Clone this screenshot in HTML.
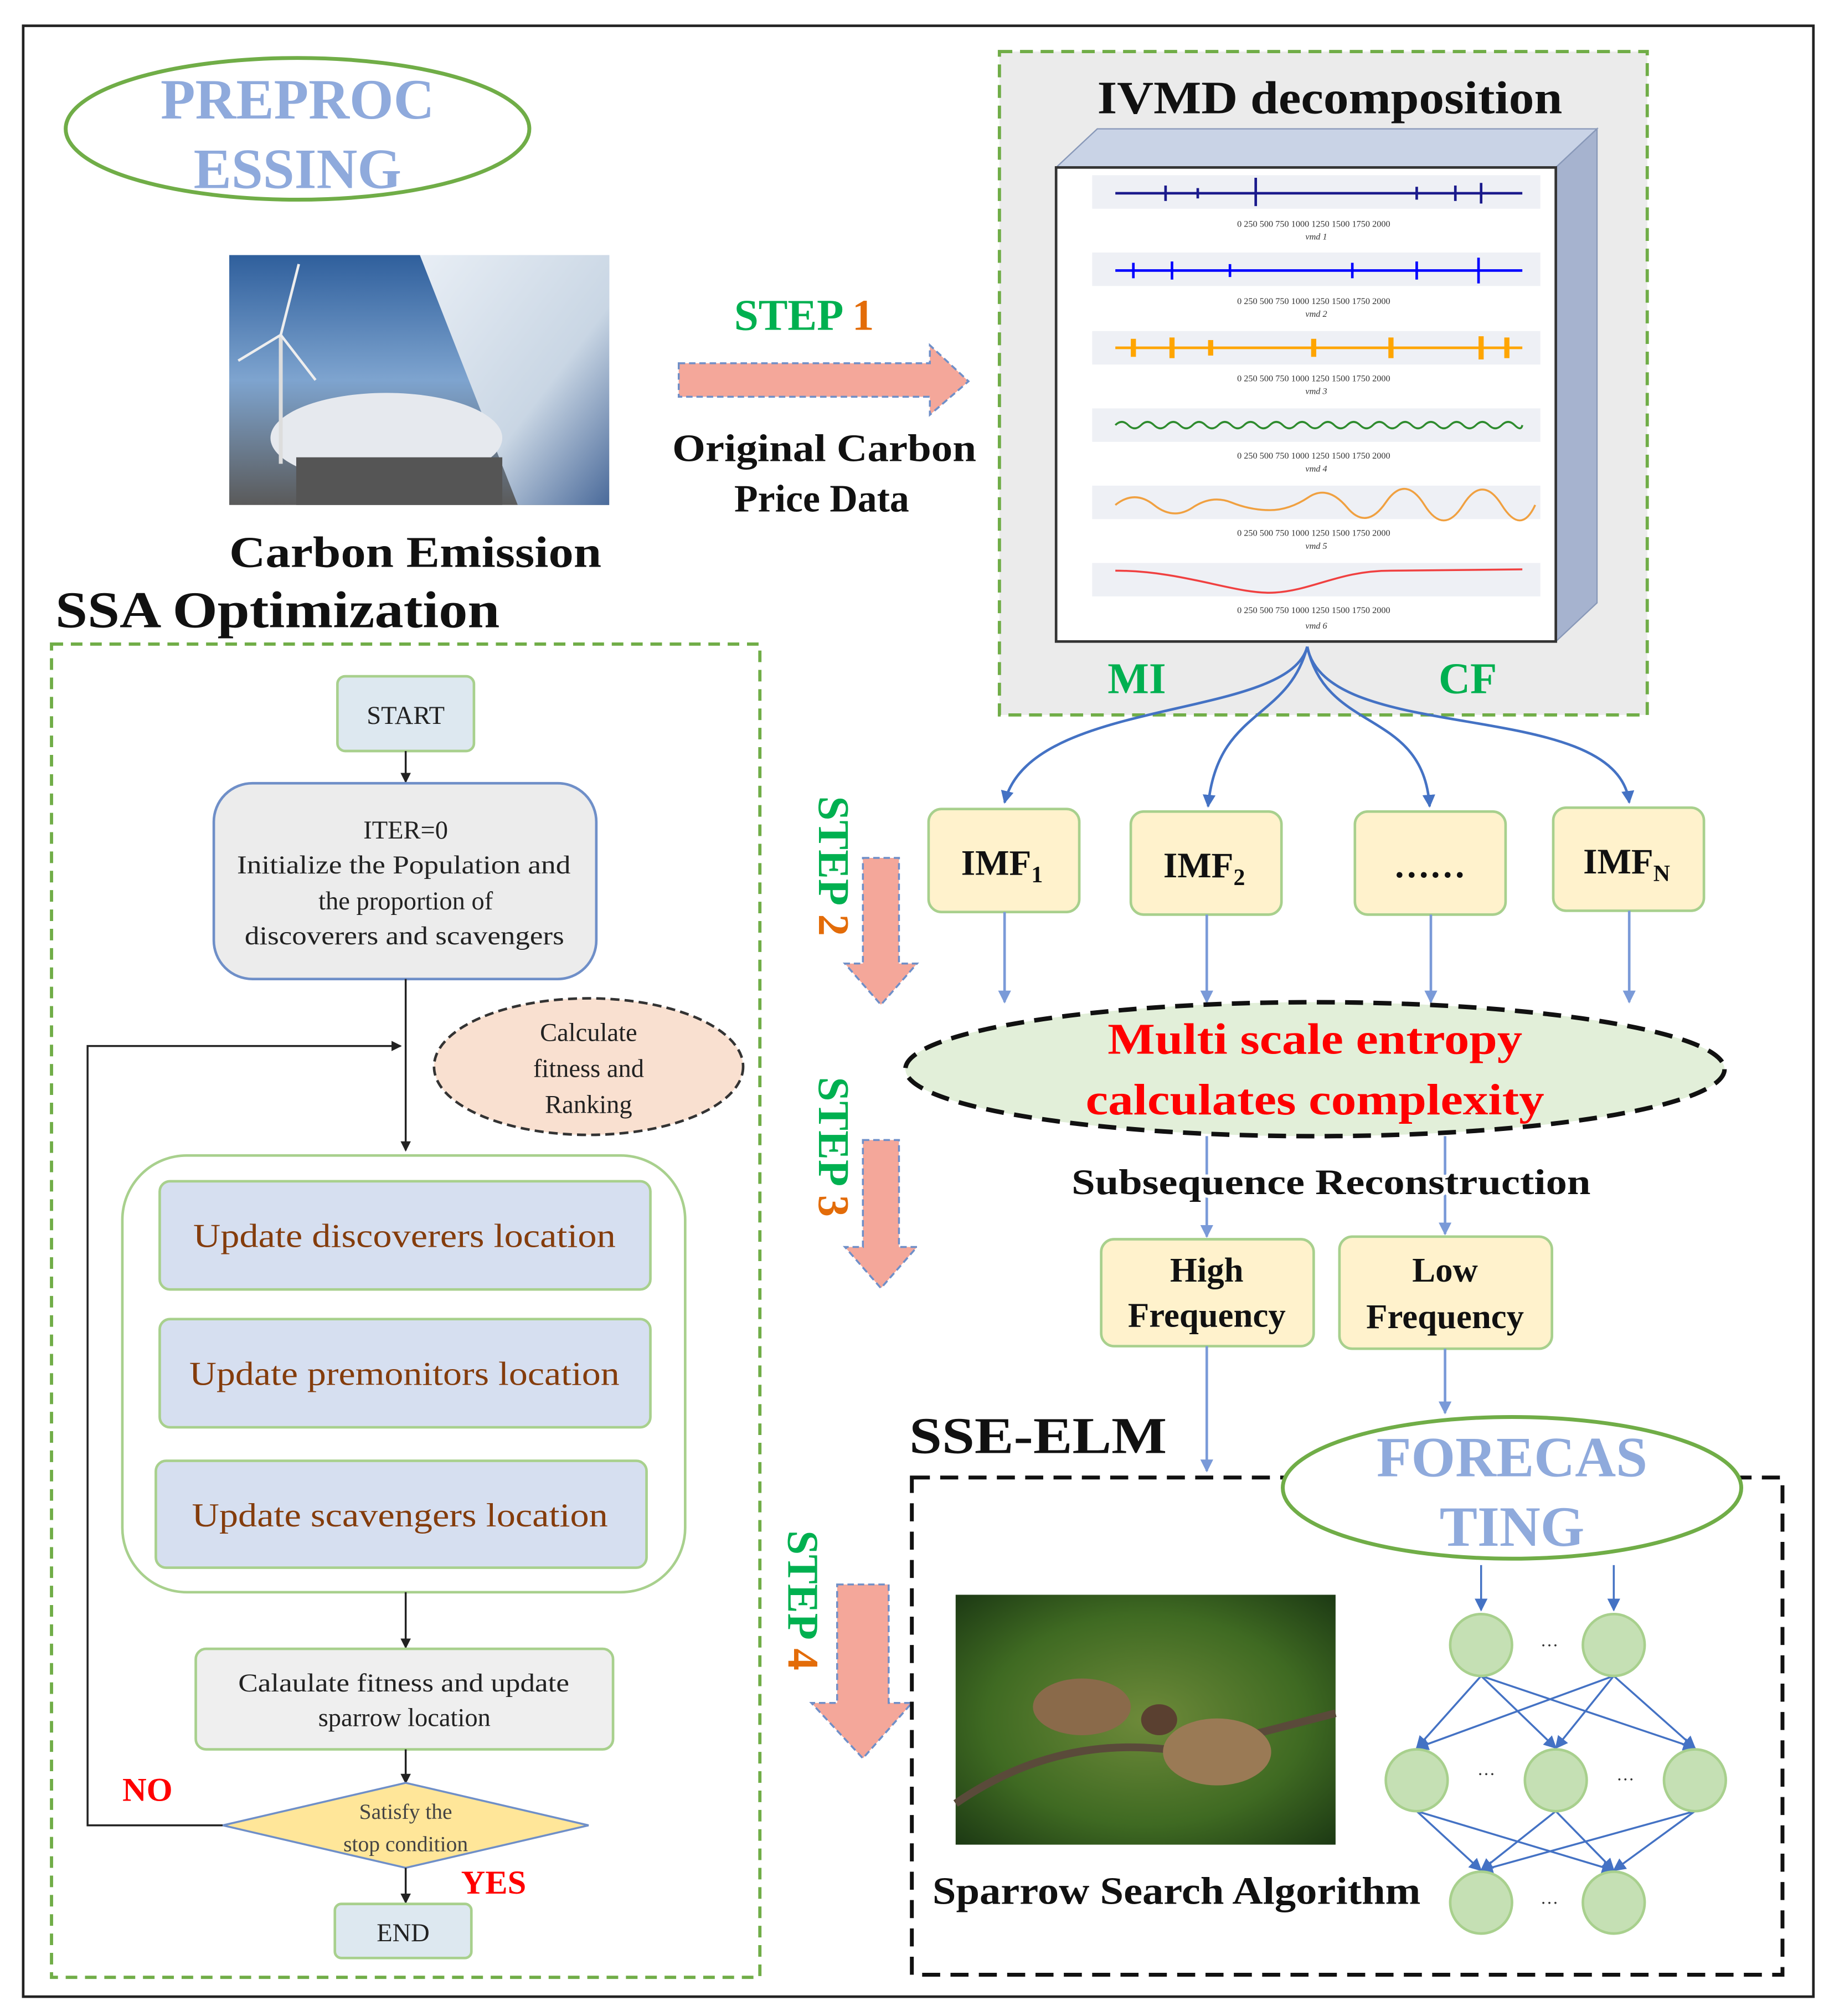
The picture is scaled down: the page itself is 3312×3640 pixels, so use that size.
<!DOCTYPE html>
<html><head><meta charset="utf-8"><style>
html,body{margin:0;padding:0;background:#fff}
svg{display:block}
text{font-family:"Liberation Serif",serif}
</style></head><body>
<svg width="3312" height="3640" viewBox="0 0 1424 1565" xmlns="http://www.w3.org/2000/svg">
<defs>
<marker id="ab" markerWidth="8" markerHeight="8" refX="7" refY="4" orient="auto" markerUnits="userSpaceOnUse"><path d="M0,0 L8,4 L0,8 z" fill="#222"/></marker>
<marker id="abl" markerWidth="10" markerHeight="10" refX="9" refY="5" orient="auto" markerUnits="userSpaceOnUse"><path d="M0,0 L10,5 L0,10 z" fill="#4472c4"/></marker>
<marker id="abl2" markerWidth="10" markerHeight="10" refX="9" refY="5" orient="auto" markerUnits="userSpaceOnUse"><path d="M0,0 L10,5 L0,10 z" fill="#7a9ad8"/></marker>
<linearGradient id="sky" x1="0" y1="0" x2="0" y2="1"><stop offset="0" stop-color="#2f5f9c"/><stop offset="0.5" stop-color="#7ea4cf"/><stop offset="1" stop-color="#5a5a5a"/></linearGradient>
<linearGradient id="smoke" x1="0" y1="0" x2="1" y2="1"><stop offset="0" stop-color="#e8eef5"/><stop offset="0.6" stop-color="#c9d6e4"/><stop offset="1" stop-color="#4a6a9a"/></linearGradient>
<radialGradient id="bird" cx="0.5" cy="0.5" r="0.7"><stop offset="0" stop-color="#6e8a3a"/><stop offset="0.6" stop-color="#3f6a22"/><stop offset="1" stop-color="#1d3a14"/></radialGradient>
</defs>
<rect x="18" y="20" width="1390" height="1530" fill="none" stroke="#222" stroke-width="2"/>

<ellipse cx="231" cy="100" rx="180" ry="55" fill="#fff" stroke="#70ad47" stroke-width="3"/>
<text x="231" y="92" font-size="44" font-weight="bold" fill="#8faadc" text-anchor="middle">PREPROC</text>
<text x="231" y="146" font-size="44" font-weight="bold" fill="#8faadc" text-anchor="middle">ESSING</text>
<rect x="178" y="198" width="295" height="194" fill="url(#sky)"/>
<polygon points="326,198 473,198 473,392 402,392" fill="url(#smoke)"/>
<ellipse cx="300" cy="340" rx="90" ry="35" fill="#e6e9ee"/>
<rect x="230" y="355" width="160" height="37" fill="#555"/>
<line x1="218" y1="260" x2="218" y2="360" stroke="#ddd" stroke-width="3"/>
<line x1="218" y1="260" x2="232" y2="205" stroke="#eee" stroke-width="2"/>
<line x1="218" y1="260" x2="185" y2="280" stroke="#eee" stroke-width="2"/>
<line x1="218" y1="260" x2="245" y2="295" stroke="#eee" stroke-width="2"/>
<text x="178" y="440" font-size="34" font-weight="bold" fill="#111" textLength="289" lengthAdjust="spacingAndGlyphs">Carbon Emission</text>
<text x="43" y="487" font-size="40" font-weight="bold" fill="#111" textLength="345" lengthAdjust="spacingAndGlyphs">SSA Optimization</text>

<rect x="40" y="500" width="550" height="1035" fill="none" stroke="#70ad47" stroke-width="2.5" stroke-dasharray="9,6"/>
<rect x="262" y="525" width="106" height="58" rx="6" fill="#dde8f0" stroke="#a8d08d" stroke-width="2"/>
<text x="315" y="562" font-size="20" text-anchor="middle" fill="#222">START</text>
<line x1="315" y1="583" x2="315" y2="607" stroke="#222" stroke-width="1.5" marker-end="url(#ab)"/>
<rect x="166" y="608" width="297" height="152" rx="30" fill="#ececec" stroke="#6f8fc8" stroke-width="2"/>
<g font-size="20" fill="#222">
<text x="315" y="651" text-anchor="middle">ITER=0</text>
<text x="184" y="678" textLength="259" lengthAdjust="spacingAndGlyphs">Initialize  the Population and</text>
<text x="315" y="706" text-anchor="middle">the proportion of</text>
<text x="190" y="733" textLength="248" lengthAdjust="spacingAndGlyphs">discoverers and scavengers</text>
</g>
<line x1="315" y1="760" x2="315" y2="893" stroke="#222" stroke-width="1.5" marker-end="url(#ab)"/>
<ellipse cx="457" cy="828" rx="120" ry="53" fill="#f9e0d0" stroke="#333" stroke-width="2" stroke-dasharray="7,4"/>
<g font-size="20" text-anchor="middle" fill="#222">
<text x="457" y="808">Calculate</text><text x="457" y="836">fitness and</text><text x="457" y="864">Ranking</text>
</g>
<polyline points="175,1417 68,1417 68,812 311,812" fill="none" stroke="#222" stroke-width="1.5" marker-end="url(#ab)"/>
<rect x="95" y="897" width="437" height="339" rx="50" fill="#fff" stroke="#a8d08d" stroke-width="2"/>
<g fill="#d6dff0" stroke="#a8d08d" stroke-width="2">
<rect x="124" y="917" width="381" height="84" rx="8"/>
<rect x="124" y="1024" width="381" height="84" rx="8"/>
<rect x="121" y="1134" width="381" height="83" rx="8"/>
</g>
<g font-size="26" fill="#843c0c">
<text x="150" y="968" textLength="328" lengthAdjust="spacingAndGlyphs">Update discoverers location</text>
<text x="147" y="1075" textLength="334" lengthAdjust="spacingAndGlyphs">Update premonitors location</text>
<text x="149" y="1185" textLength="323" lengthAdjust="spacingAndGlyphs">Update scavengers location</text>
</g>
<line x1="315" y1="1236" x2="315" y2="1279" stroke="#222" stroke-width="1.5" marker-end="url(#ab)"/>
<rect x="152" y="1280" width="324" height="78" rx="8" fill="#efefef" stroke="#a8d08d" stroke-width="2"/>
<text x="185" y="1313" font-size="20" fill="#222" textLength="257" lengthAdjust="spacingAndGlyphs">Calaulate  fitness and update</text>
<text x="314" y="1340" font-size="20" text-anchor="middle" fill="#222">sparrow location</text>
<line x1="315" y1="1358" x2="315" y2="1384" stroke="#222" stroke-width="1.5" marker-end="url(#ab)"/>
<polygon points="173,1417 315,1384 457,1417 315,1450" fill="#ffe699" stroke="#6f8fc8" stroke-width="1.5"/>
<text x="315" y="1412" font-size="17" text-anchor="middle" fill="#444">Satisfy  the</text>
<text x="315" y="1437" font-size="17" text-anchor="middle" fill="#444">stop condition</text>
<text x="95" y="1398" font-size="26" font-weight="bold" fill="#ff0000">NO</text>
<text x="358" y="1470" font-size="26" font-weight="bold" fill="#ff0000">YES</text>
<line x1="315" y1="1450" x2="315" y2="1477" stroke="#222" stroke-width="1.5" marker-end="url(#ab)"/>
<rect x="260" y="1478" width="106" height="42" rx="5" fill="#dde8f0" stroke="#a8d08d" stroke-width="2"/>
<text x="313" y="1507" font-size="20" text-anchor="middle" fill="#222">END</text>

<text x="570" y="256" font-size="34" font-weight="bold" fill="#00b050">STEP <tspan fill="#e36c09">1</tspan></text>
<polygon points="527,282 722,282 722,268 752,296 722,322 722,308 527,308" fill="#f4a79a" stroke="#6f8fc8" stroke-width="1.5" stroke-dasharray="5,3"/>
<text x="522" y="358" font-size="30" font-weight="bold" fill="#111" textLength="236" lengthAdjust="spacingAndGlyphs">Original Carbon</text>
<text x="638" y="397" font-size="30" font-weight="bold" text-anchor="middle" fill="#111">Price Data</text>

<rect x="776" y="40" width="503" height="515" fill="#ebebeb" stroke="#70ad47" stroke-width="2.5" stroke-dasharray="10,6"/>
<text x="852" y="88" font-size="36" font-weight="bold" fill="#111" textLength="361" lengthAdjust="spacingAndGlyphs">IVMD decomposition</text>
<polygon points="820,130 852,100 1240,100 1208,130" fill="#c9d3e6" stroke="#8898b8"/>
<polygon points="1208,130 1240,100 1240,468 1208,498" fill="#a6b3cf" stroke="#8898b8"/>
<rect x="820" y="130" width="388" height="368" fill="#fff" stroke="#333" stroke-width="2"/>
<g stroke-width="2" fill="none">
<rect x="848" y="136" width="348" height="26" fill="#eef0f5" stroke="none"/>
<path d="M866,150 L1182,150" stroke="#1a1a8c"/>
<path d="M905,144v12M930,146v8M975,138v22M1100,145v10M1130,144v12M1150,142v16" stroke="#1a1a8c"/>
<rect x="848" y="196" width="348" height="26" fill="#eef0f5" stroke="none"/>
<path d="M866,210 L1182,210" stroke="#0000ff"/>
<path d="M880,204v12M910,203v14M955,205v10M1050,204v12M1100,203v14M1148,200v20" stroke="#0000ff"/>
<rect x="848" y="257" width="348" height="26" fill="#eef0f5" stroke="none"/>
<path d="M866,270 L1182,270" stroke="#ffa500"/>
<path d="M880,263v14M910,262v16M940,264v12M1020,263v14M1080,262v16M1150,261v18M1170,262v16" stroke="#ffa500" stroke-width="4"/>
<rect x="848" y="317" width="348" height="26" fill="#eef0f5" stroke="none"/>
<path d="M866,330 q5,-5 10,0 t10,0 t10,0 t10,0 t10,0 t10,0 t10,0 t10,0 t10,0 t10,0 t10,0 t10,0 t10,0 t10,0 t10,0 t10,0 t10,0 t10,0 t10,0 t10,0 t10,0 t10,0 t10,0 t10,0 t10,0 t10,0 t10,0 t10,0 t10,0 t10,0 t10,0 t6,0" stroke="#2e8b2e" stroke-width="1.5"/>
<rect x="848" y="377" width="348" height="26" fill="#eef0f5" stroke="none"/>
<path d="M866,392 q15,-12 30,0 t30,2 t30,-4 t30,6 t30,-10 t30,8 t30,-4 t30,2 t30,0 t30,0 t26,0" stroke="#f0a040" stroke-width="1.5"/>
<rect x="848" y="437" width="348" height="26" fill="#eef0f5" stroke="none"/>
<path d="M866,443 C920,443 960,462 990,460 C1020,458 1040,443 1080,443 L1182,442" stroke="#f04040" stroke-width="1.5"/>
</g>
<g font-size="7" fill="#333" font-family="Liberation Sans,sans-serif" text-anchor="middle">
<text x="1020" y="176">0   250   500   750   1000   1250   1500   1750   2000</text><text x="1022" y="186" font-style="italic">vmd 1</text>
<text x="1020" y="236">0   250   500   750   1000   1250   1500   1750   2000</text><text x="1022" y="246" font-style="italic">vmd 2</text>
<text x="1020" y="296">0   250   500   750   1000   1250   1500   1750   2000</text><text x="1022" y="306" font-style="italic">vmd 3</text>
<text x="1020" y="356">0   250   500   750   1000   1250   1500   1750   2000</text><text x="1022" y="366" font-style="italic">vmd 4</text>
<text x="1020" y="416">0   250   500   750   1000   1250   1500   1750   2000</text><text x="1022" y="426" font-style="italic">vmd 5</text>
<text x="1020" y="476">0   250   500   750   1000   1250   1500   1750   2000</text><text x="1022" y="488" font-style="italic">vmd 6</text>
</g>
<text x="860" y="538" font-size="34" font-weight="bold" fill="#00b050">MI</text>
<text x="1117" y="538" font-size="34" font-weight="bold" fill="#00b050">CF</text>

<g fill="none" stroke="#4472c4" stroke-width="2">
<path d="M1015,502 C1000,560 800,540 780,623" marker-end="url(#abl)"/>
<path d="M1015,502 C1000,560 945,550 938,626" marker-end="url(#abl)"/>
<path d="M1015,502 C1030,570 1105,550 1110,626" marker-end="url(#abl)"/>
<path d="M1015,502 C1030,580 1255,540 1265,623" marker-end="url(#abl)"/>
</g>
<g fill="#fff2cc" stroke="#a8d08d" stroke-width="2">
<rect x="721" y="628" width="117" height="80" rx="10"/>
<rect x="878" y="630" width="117" height="80" rx="10"/>
<rect x="1052" y="630" width="117" height="80" rx="10"/>
<rect x="1206" y="627" width="117" height="80" rx="10"/>
</g>
<g font-size="28" font-weight="bold" fill="#111" text-anchor="middle">
<text x="778" y="679">IMF<tspan font-size="18" dy="6">1</tspan></text>
<text x="935" y="681">IMF<tspan font-size="18" dy="6">2</tspan></text>
<text x="1110" y="681">……</text>
<text x="1263" y="678">IMF<tspan font-size="18" dy="6">N</tspan></text>
</g>
<g stroke="#7a9ad8" stroke-width="2">
<line x1="780" y1="708" x2="780" y2="778" marker-end="url(#abl2)"/>
<line x1="937" y1="710" x2="937" y2="778" marker-end="url(#abl2)"/>
<line x1="1111" y1="710" x2="1111" y2="778" marker-end="url(#abl2)"/>
<line x1="1265" y1="707" x2="1265" y2="778" marker-end="url(#abl2)"/>
</g>
<ellipse cx="1021" cy="830" rx="318" ry="52" fill="#e2efd9" stroke="#111" stroke-width="3.5" stroke-dasharray="14,8"/>
<text x="860" y="818" font-size="34" font-weight="bold" fill="#ff0000" textLength="322" lengthAdjust="spacingAndGlyphs">Multi scale entropy</text>
<text x="843" y="865" font-size="34" font-weight="bold" fill="#ff0000" textLength="356" lengthAdjust="spacingAndGlyphs">calculates complexity</text>

<g font-size="34" font-weight="bold">
<text transform="translate(636,618) rotate(90)" fill="#00b050">STEP <tspan fill="#e36c09">2</tspan></text>
<text transform="translate(636,836) rotate(90)" fill="#00b050">STEP <tspan fill="#e36c09">3</tspan></text>
<text transform="translate(612,1188) rotate(90)" fill="#00b050">STEP <tspan fill="#e36c09">4</tspan></text>
</g>
<g fill="#f4a79a" stroke="#6f8fc8" stroke-width="1.5" stroke-dasharray="5,3">
<polygon points="670,666 698,666 698,748 712,748 684,780 656,748 670,748"/>
<polygon points="670,885 698,885 698,968 712,968 684,1000 656,968 670,968"/>
<polygon points="650,1230 690,1230 690,1322 708,1322 670,1365 630,1322 650,1322"/>
</g>

<g stroke="#7a9ad8" stroke-width="2">
<line x1="937" y1="882" x2="937" y2="960" marker-end="url(#abl2)"/>
<line x1="1122" y1="882" x2="1122" y2="958" marker-end="url(#abl2)"/>
</g>
<text x="832" y="927" font-size="28" font-weight="bold" fill="#111" stroke="#fff" stroke-width="5" paint-order="stroke" textLength="403" lengthAdjust="spacingAndGlyphs">Subsequence Reconstruction</text>
<g fill="#fff2cc" stroke="#a8d08d" stroke-width="2">
<rect x="855" y="962" width="165" height="83" rx="10"/>
<rect x="1040" y="960" width="165" height="87" rx="10"/>
</g>
<g font-size="27" font-weight="bold" fill="#111" text-anchor="middle">
<text x="937" y="995">High</text><text x="937" y="1030">Frequency</text>
<text x="1122" y="995">Low</text><text x="1122" y="1031">Frequency</text>
</g>
<g stroke="#7a9ad8" stroke-width="2">
<line x1="937" y1="1045" x2="937" y2="1142" marker-end="url(#abl2)"/>
<line x1="1122" y1="1047" x2="1122" y2="1097" marker-end="url(#abl2)"/>
</g>
<text x="706" y="1128" font-size="40" font-weight="bold" fill="#111" textLength="200" lengthAdjust="spacingAndGlyphs">SSE-ELM</text>
<rect x="708" y="1147" width="676" height="386" fill="none" stroke="#111" stroke-width="3" stroke-dasharray="14,8"/>
<ellipse cx="1174" cy="1155" rx="178" ry="55" fill="#fff" stroke="#70ad47" stroke-width="3"/>
<text x="1174" y="1146" font-size="44" font-weight="bold" fill="#8faadc" text-anchor="middle">FORECAS</text>
<text x="1174" y="1200" font-size="44" font-weight="bold" fill="#8faadc" text-anchor="middle">TING</text>

<rect x="742" y="1238" width="295" height="194" fill="url(#bird)"/>
<path d="M742,1400 C800,1360 860,1350 920,1360 L1037,1330" stroke="#5a4a3a" stroke-width="6" fill="none"/>
<ellipse cx="840" cy="1325" rx="38" ry="22" fill="#8a6a4a"/>
<ellipse cx="945" cy="1360" rx="42" ry="26" fill="#9a7a55"/>
<ellipse cx="900" cy="1335" rx="14" ry="12" fill="#5a4030"/>
<text x="724" y="1478" font-size="30" font-weight="bold" fill="#111" textLength="379" lengthAdjust="spacingAndGlyphs">Sparrow Search Algorithm</text>

<g stroke="#4472c4" stroke-width="1.5">
<line x1="1150" y1="1215" x2="1150" y2="1250" marker-end="url(#abl)"/>
<line x1="1253" y1="1215" x2="1253" y2="1250" marker-end="url(#abl)"/>
<line x1="1150" y1="1301" x2="1100" y2="1357" marker-end="url(#abl)"/>
<line x1="1150" y1="1301" x2="1208" y2="1357" marker-end="url(#abl)"/>
<line x1="1150" y1="1301" x2="1316" y2="1357" marker-end="url(#abl)"/>
<line x1="1253" y1="1301" x2="1100" y2="1357" marker-end="url(#abl)"/>
<line x1="1253" y1="1301" x2="1208" y2="1357" marker-end="url(#abl)"/>
<line x1="1253" y1="1301" x2="1316" y2="1357" marker-end="url(#abl)"/>
<line x1="1100" y1="1406" x2="1150" y2="1452" marker-end="url(#abl)"/>
<line x1="1100" y1="1406" x2="1253" y2="1452" marker-end="url(#abl)"/>
<line x1="1208" y1="1406" x2="1150" y2="1452" marker-end="url(#abl)"/>
<line x1="1208" y1="1406" x2="1253" y2="1452" marker-end="url(#abl)"/>
<line x1="1316" y1="1406" x2="1150" y2="1452" marker-end="url(#abl)"/>
<line x1="1316" y1="1406" x2="1253" y2="1452" marker-end="url(#abl)"/>
</g>
<g fill="#c5e0b4" stroke="#a8d08d" stroke-width="2">
<circle cx="1150" cy="1277" r="24"/><circle cx="1253" cy="1277" r="24"/>
<circle cx="1100" cy="1382" r="24"/><circle cx="1208" cy="1382" r="24"/><circle cx="1316" cy="1382" r="24"/>
<circle cx="1150" cy="1477" r="24"/><circle cx="1253" cy="1477" r="24"/>
</g>
<g font-size="14" fill="#333" text-anchor="middle">
<text x="1203" y="1278">…</text><text x="1154" y="1378">…</text><text x="1262" y="1382">…</text><text x="1203" y="1478">…</text>
</g>
</svg>
</body></html>
